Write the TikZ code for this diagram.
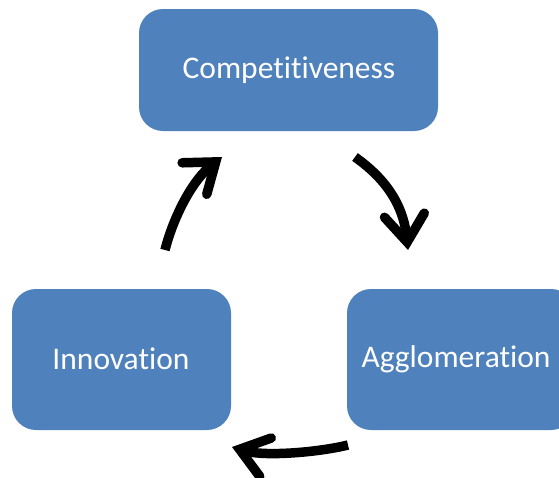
\documentclass[tikz,border=0pt]{standalone}
\usepackage{fontspec}
\setmainfont[Ligatures=NoCommon]{Carlito}
\usetikzlibrary{arrows.meta}
\definecolor{boxblue}{HTML}{4F81BD}
\tikzset{
  boxfill/.style={fill=boxblue, draw=none, rounded corners=24pt},
  boxtext/.style={text=white, font=\fontsize{31.5}{38}\selectfont},
  cyc/.style={line width=9.5pt, -{Straight Barb[length=27pt,width=40pt,line cap=round,line join=miter]}}
}
\begin{document}
\begin{tikzpicture}[x=1pt,y=-1pt]
\useasboundingbox (0,0) rectangle (559,477);
\clip (0,0) rectangle (559,477);
\fill[boxfill] (139,9) rectangle (438,131);
\node[boxtext] (comp) at (289,70) {Competitiveness};
\fill[boxfill] (12,289) rectangle (231,430);
\node[boxtext] (inno) at (121,359) {Innovation};
\fill[boxfill] (347,289) rectangle (575,430);
\node[boxtext] (aggl) at (456,359) {Agglomeration};
\coordinate (a1s) at (355,157);
\coordinate (a1e) at (408,250);
\coordinate (a2s) at (348,445);
\coordinate (a2e) at (232,447);
\coordinate (a3s) at (165,250);
\coordinate (a3e) at (222,157);
\draw[cyc] (a1s) .. controls (383,177) and (403,202) .. (a1e);
\draw[cyc] (a2s) .. controls (320,452) and (265,457) .. (a2e);
\draw[cyc] (a3s) .. controls (172,222) and (190,182) .. (a3e);
\end{tikzpicture}
\end{document}
